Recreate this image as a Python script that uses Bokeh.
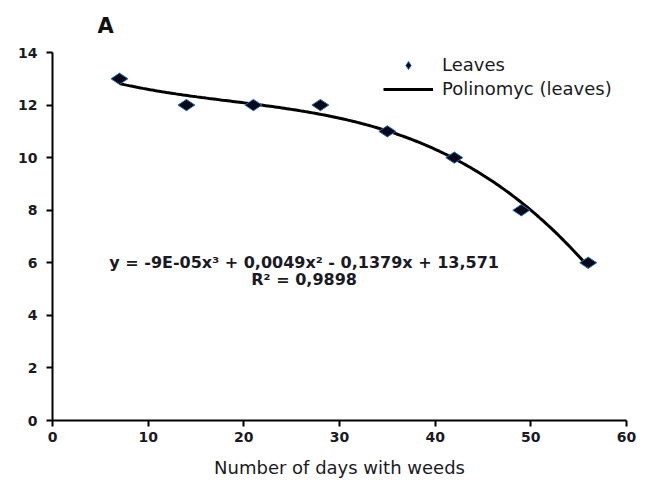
import numpy as np
from bokeh.plotting import figure
from bokeh.models import Range1d, FixedTicker, Label, Legend, LegendItem, ColumnDataSource, Title
from bokeh.embed import file_html
from bokeh.resources import INLINE

days = [7, 14, 21, 28, 35, 42, 49, 56]
leaves = [13, 12, 12, 12, 11, 10, 8, 6]
x_ticks = [0, 10, 20, 30, 40, 50, 60]
y_ticks = [0, 2, 4, 6, 8, 10, 12, 14]
equation = "y = -9E-05x³ + 0,0049x² - 0,1379x + 13,571"
r2_text = "R² = 0,9898"

coef = np.polyfit(days, leaves, 3)
xs = np.linspace(min(days), max(days), 200)
ys = np.polyval(coef, xs)

FONT = "DejaVu Sans"
TXT = "#1a1a24"

p = figure(width=640, height=480, output_backend="svg", toolbar_location=None,
           x_range=Range1d(0, 60), y_range=Range1d(0, 14),
           min_border_left=52, min_border_right=14, min_border_top=52, min_border_bottom=56)
p.outline_line_color = None
p.grid.visible = False
p.background_fill_color = "white"

for ax in (p.xaxis[0], p.yaxis[0]):
    ax.axis_line_width = 2
    ax.axis_line_color = "black"
    ax.major_tick_line_width = 2
    ax.major_tick_line_color = "black"
    ax.major_tick_out = 6
    ax.major_tick_in = 0
    ax.minor_tick_line_color = None
    ax.major_label_text_font = FONT
    ax.major_label_text_font_style = "bold"
    ax.major_label_text_font_size = "14px"
    ax.major_label_text_color = TXT
p.xaxis.ticker = FixedTicker(ticks=x_ticks)
p.yaxis.ticker = FixedTicker(ticks=y_ticks)
p.yaxis.major_label_standoff = 9
p.xaxis.major_label_standoff = 5
p.xaxis.axis_label = "Number of days with weeds"
p.xaxis.axis_label_text_font = FONT
p.xaxis.axis_label_text_font_style = "normal"
p.xaxis.axis_label_text_font_size = "18px"
p.xaxis.axis_label_text_color = TXT
p.xaxis.axis_label_standoff = 12

line_r = p.line(xs, ys, line_color="black", line_width=3)
src = ColumnDataSource(dict(x=days, y=leaves))
pts = p.scatter("x", "y", source=src, marker="diamond", size=17, angle=np.pi / 2,
                fill_color="#080818", line_color="#2a6db5", line_width=1)

legend = Legend(items=[LegendItem(label="Leaves", renderers=[pts]),
                       LegendItem(label="Polinomyc (leaves)", renderers=[line_r])],
                location=(331, 321), glyph_width=50, glyph_height=20, label_height=20,
                spacing=3, padding=0, margin=0, label_standoff=9,
                border_line_color=None, background_fill_alpha=0,
                label_text_font=FONT, label_text_font_size="18px",
                label_text_color=TXT)
p.add_layout(legend)

p.add_layout(Label(x=26.3, y=6.02, text=equation, text_align="center", text_baseline="middle",
                   text_font=FONT, text_font_size="16px", text_font_style="bold",
                   text_color=TXT))
p.add_layout(Label(x=26.3, y=5.37, text=r2_text, text_align="center", text_baseline="middle",
                   text_font=FONT, text_font_size="16px", text_font_style="bold",
                   text_color=TXT))

p.add_layout(Title(text="A", align="left", offset=45, standoff=25, vertical_align="top",
                   text_font=FONT, text_font_size="21px", text_font_style="bold",
                   text_color="#111111"), "above")

open("out.html", "w").write(file_html(p, INLINE))
